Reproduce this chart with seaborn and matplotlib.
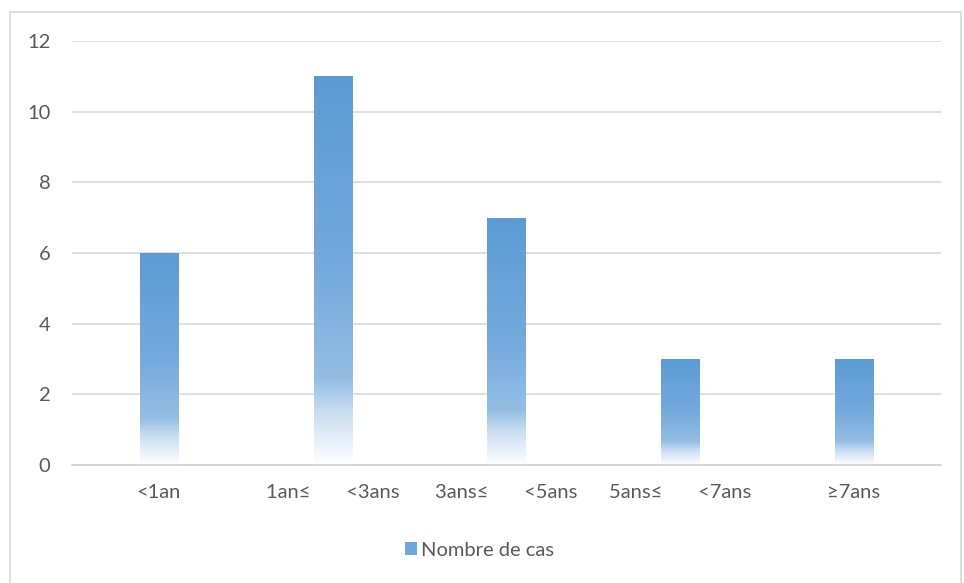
import numpy as np
import pandas as pd
import matplotlib
matplotlib.use("Agg")
import matplotlib.pyplot as plt
import seaborn as sns
from matplotlib.colors import LinearSegmentedColormap
from matplotlib.patches import Rectangle, Patch

categories = ["<1an", "1an≤       <3ans", "3ans≤       <5ans", "5ans≤       <7ans", "≥7ans"]
cases = [6, 11, 7, 3, 3]
yticks = [0, 2, 4, 6, 8, 10, 12]
series_name = "Nombre de cas"

sns.set_theme(style="white")
plt.rcParams["font.family"] = ["Lato", "DejaVu Sans"]

df = pd.DataFrame({"cat": categories, "val": cases})

fig = plt.figure(figsize=(9.64, 5.83), dpi=100)
ax = fig.add_axes([0.0747, 0.2024, 0.9013, 0.7273])

# outer chart frame
fig.patches.append(Rectangle((10 / 964, -0.05), 951 / 964, 1.05 - 12 / 583,
                             transform=fig.transFigure, fill=False,
                             edgecolor="#D9D9D9", linewidth=1.2, zorder=0))

sns.barplot(data=df, x="cat", y="val", ax=ax, width=0.22, color="#5B9BD5",
            errorbar=None, zorder=2)

# vertical fade from blue at the top of each bar to white at its base
cmap = LinearSegmentedColormap.from_list(
    "fade", [(0.0, "#5B9BD5"), (0.5, "#74AADD"), (0.78, "#93BEE4"),
             (0.86, "#C6DCF1"), (1.0, "#FFFFFF")])
grad = np.linspace(0, 1, 256).reshape(-1, 1)
for p in ax.patches:
    x0, w, h = p.get_x(), p.get_width(), p.get_height()
    p.set_facecolor("none")
    p.set_edgecolor("none")
    im = ax.imshow(grad, extent=[x0, x0 + w, 0, h], aspect="auto",
                   cmap=cmap, origin="upper", zorder=2, interpolation="bilinear")
    im.set_clip_path(p)

ax.set_xlim(-0.5, len(categories) - 0.5)
ax.set_ylim(0, 12)
ax.set_yticks(yticks)
ax.set_yticklabels([str(t) for t in yticks])
ax.grid(axis="y", color="#D9D9D9", linewidth=1.2)
ax.set_axisbelow(True)
for s in ["top", "right", "left"]:
    ax.spines[s].set_visible(False)
ax.spines["bottom"].set_color("#D0D0D0")
ax.spines["bottom"].set_linewidth(1.2)
ax.set_xlabel("")
ax.set_ylabel("")
ax.tick_params(axis="both", length=0, labelsize=14.5, labelcolor="#595959")
ax.tick_params(axis="x", pad=14)
ax.tick_params(axis="y", pad=15.5)

handle = Patch(facecolor="#6FA7DA", edgecolor="none")
fig.legend([handle], [series_name], loc="center", bbox_to_anchor=(0.497, 1 - 550 / 583),
           frameon=False, fontsize=14.5, handlelength=0.6, handleheight=0.6,
           handletextpad=0.2, labelcolor="#595959")

fig.savefig("out.png", dpi=100)
